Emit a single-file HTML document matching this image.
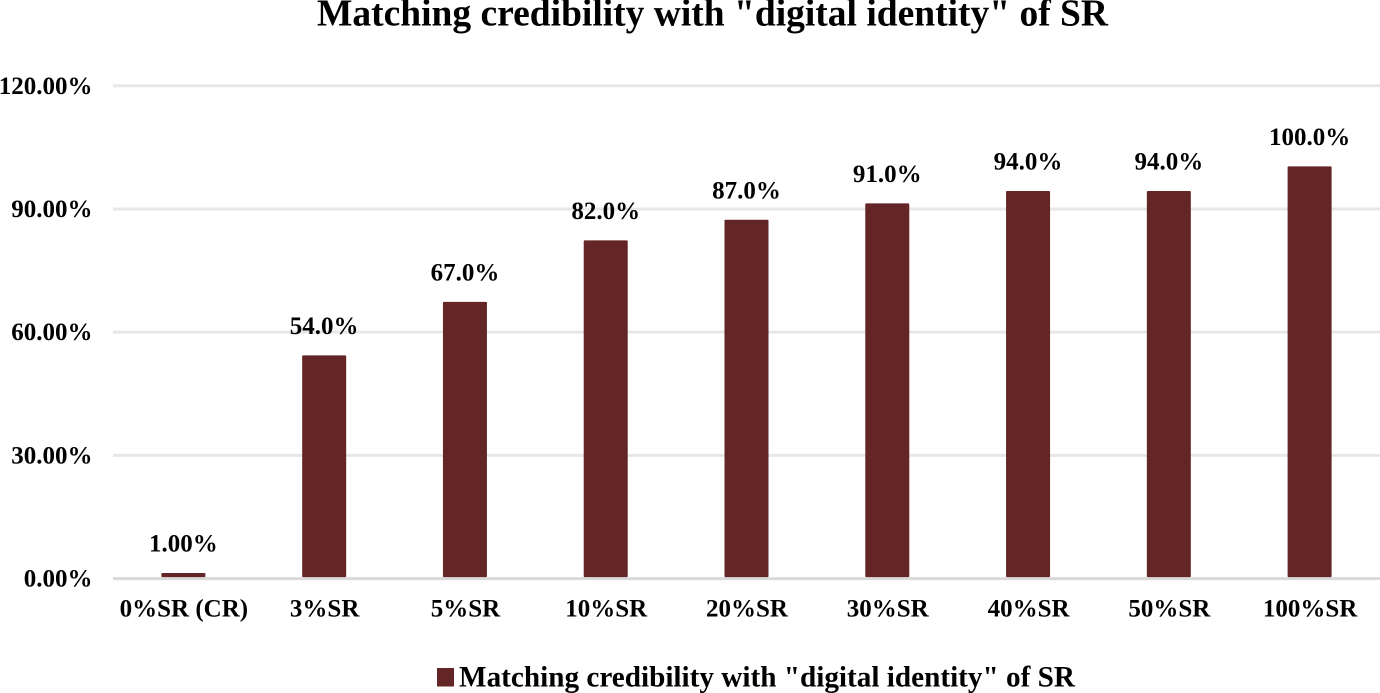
<!DOCTYPE html>
<html>
<head>
<meta charset="utf-8">
<title>Matching credibility chart</title>
<style>
html,body{margin:0;padding:0;background:#fff;width:1380px;height:693px;overflow:hidden}
svg{display:block}
text{font-family:"Liberation Serif",serif;font-weight:bold;fill:#000}
</style>
</head>
<body>
<svg id="chart" width="1380" height="693" viewBox="0 0 1380 693">
<text x="317" y="25.5" font-size="38" textLength="791" lengthAdjust="spacingAndGlyphs">Matching credibility with "digital identity" of SR</text>
<rect x="437" y="668" width="17" height="18.5" fill="#632525"/>
<text x="459" y="686.7" font-size="29.5" textLength="616" lengthAdjust="spacingAndGlyphs">Matching credibility with "digital identity" of SR</text>
</svg>
<script>
const categories = ["0%SR (CR)", "3%SR", "5%SR", "10%SR", "20%SR", "30%SR", "40%SR", "50%SR", "100%SR"];
const seriesValues = [1, 54, 67, 82, 87, 91, 94, 94, 100];
const valueLabels = ["1.00%", "54.0%", "67.0%", "82.0%", "87.0%", "91.0%", "94.0%", "94.0%", "100.0%"];
const tickValues = [0, 30, 60, 90, 120];
const tickLabels = ["0.00%", "30.00%", "60.00%", "90.00%", "120.00%"];

const svgNS = "http://www.w3.org/2000/svg";
const svg = document.getElementById("chart");
const plotLeft = 113, plotRight = 1380, axisY = 578.6, pxPerUnit = 4.107, barWidth = 44;
function yScale(v){ return axisY - v * pxPerUnit; }
function xBand(i){ return plotLeft + (plotRight - plotLeft) * (i + 0.5) / categories.length; }
function make(tag, attrs){
  const el = document.createElementNS(svgNS, tag);
  for (const k in attrs) el.setAttribute(k, attrs[k]);
  return el;
}
tickValues.forEach(function(t, i){
  const y = yScale(t);
  const line = make("line", {x1: plotLeft, x2: plotRight, y1: y, y2: y, stroke: t === 0 ? "#d9d9d9" : "#e7e7e7", "stroke-width": 3});
  
  
  svg.appendChild(line);
  const label = make("text", {x: 92.5, y: y + 8, "text-anchor": "end", "font-size": 25});
  
  
  label.textContent = tickLabels[i];
  svg.appendChild(label);
});
categories.forEach(function(c, i){
  const cx = xBand(i);
  const top = yScale(seriesValues[i]) - 1.5;
  const bar = make("rect", {x: cx - barWidth / 2, y: top, width: barWidth, height: axisY - 1.5 - top, fill: "#632525", rx: 1});
  
  
  svg.appendChild(bar);
  const val = make("text", {x: cx, y: top - 21.5, "text-anchor": "middle", "font-size": 25});
  
  
  val.textContent = valueLabels[i];
  svg.appendChild(val);
  const cat = make("text", {x: cx + 0.5, y: 616.7, "text-anchor": "middle", "font-size": 25});
  
  
  cat.textContent = c;
  svg.appendChild(cat);
});
</script>
</body>
</html>
